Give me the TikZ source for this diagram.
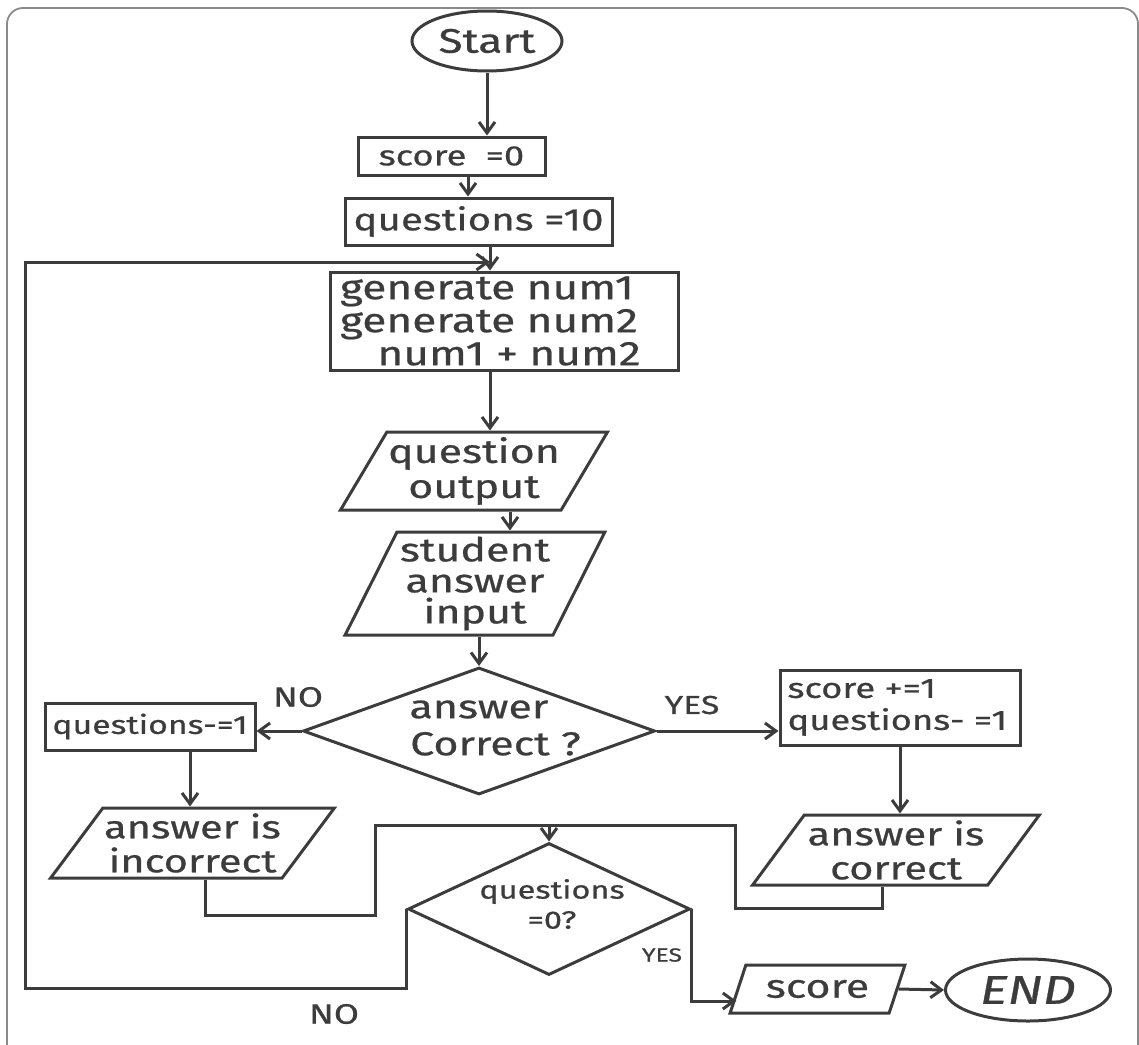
\documentclass[tikz,border=0pt]{standalone}
\usepackage{fontspec}
\setmainfont{Fira Sans}[FakeStretch=1.3,FakeBold=0.7]
\usetikzlibrary{shapes.geometric,arrows.meta,calc}
\definecolor{ink}{HTML}{3C3C3C}
\definecolor{framec}{HTML}{8A8A8A}
\newcommand{\fsz}[2]{\fontsize{#1}{#2}\selectfont}
\begin{document}
\begin{tikzpicture}[x=1pt,y=-1pt,color=ink,line width=3pt,
  box/.style={draw,rectangle,inner sep=0pt,align=center,font=\fsz{30}{36}},
  io/.style={draw,trapezium,trapezium stretches=true,inner sep=0pt,align=center,font=\fsz{32}{34}},
  term/.style={draw,ellipse,inner sep=0pt,font=\fsz{34}{40}},
  dec/.style={draw,diamond,inner sep=0pt},
  dectext/.style={inner sep=0pt,align=center,font=\fsz{30}{34}},
  lbl/.style={inner sep=0pt,font=\fsz{28}{30}},
  arr/.style={-{Straight Barb[length=11pt,width=16pt]}}]
\useasboundingbox (0,0) rectangle (1139,1044);
\clip (0,0) rectangle (1139,1044);
% frame
\draw[framec,line width=1.8pt,rounded corners=16pt] (7,1100) -- (7,8) -- (1138,8) -- (1138,1100);

% nodes
\node[term,minimum width=150,minimum height=60] (start) at (487,41) {Start};
\node[box,minimum width=187,minimum height=38,font=\fsz{28}{32}] (s0) at (451.5,156) {score\ \ =0};
\node[box,minimum width=267,minimum height=47,font=\fsz{31}{34}] (q10) at (478.5,221.5) {questions =10};
\node[box,minimum width=348,minimum height=98,text width=328,align=left,font=\fsz{34}{33}] (gen) at (504,321)
  {generate num1\\generate num2\\\hspace*{1.1em}num1 + num2};
\node[io,trapezium left angle=56,trapezium right angle=124,minimum width=268,minimum height=78,font=\fsz{33}{35}] (qout) at (474,471)
  {question\\output};
\node[io,trapezium left angle=62,trapezium right angle=118,minimum width=260,minimum height=103,font=\fsz{33}{31}] (sin) at (475,583.5)
  {student\\answer\\input};
\node[dec,minimum width=352,minimum height=127] (d1) at (479,731) {};
\node[dectext,font=\fsz{33}{37}] (d1t) at (479,728) {answer\\\hspace*{1em}Correct ?};
\node[box,minimum width=210,minimum height=47,font=\fsz{26}{30}] (qm1) at (150,726.5) {questions-=1};
\node[box,minimum width=240,minimum height=75,text width=225,align=left,font=\fsz{28}{32}] (sp1) at (900,707.5)
  {score +=1\\questions- =1};
\node[io,trapezium left angle=49,trapezium right angle=131,minimum width=285,minimum height=70] (inc) at (192.5,843)
  {answer is\\incorrect};
\node[io,trapezium left angle=50,trapezium right angle=130,minimum width=288,minimum height=70] (cor) at (896,850)
  {answer is\\correct};
\node[dec,minimum width=282,minimum height=132] (d2) at (549,909) {};
\node[dectext,font=\fsz{25}{30}] (d2t) at (552,904) {questions\\=0?};
\node[io,trapezium left angle=58,trapezium right angle=122,minimum width=175,minimum height=48,font=\fsz{33}{36}] (sc) at (817.5,989) {score};
\node[term,minimum width=165,minimum height=62,font=\fsz{40}{44}\itshape] (endn) at (1028,990) {END};

% guide coordinates
\coordinate (xB) at (468,0);
\coordinate (xC) at (490,0);
\coordinate (xE) at (510,0);
\coordinate (xG) at (190,0);
\coordinate (xH) at (900,0);
\coordinate (xI) at (205,0);
\coordinate (jl) at (375,915);
\coordinate (jt) at (735,825);
\coordinate (jr) at (882,908);
\coordinate (lp1) at (25,988);
\coordinate (lpt) at (490,262);

% connectors
\draw[arr] (start.south) -- (start.south |- s0.north);
\draw[arr] (s0.south -| xB) -- (q10.north -| xB);
\draw[arr] (q10.south -| xC) -- (gen.north -| xC);
\draw[arr] (gen.south -| xC) -- (qout.north -| xC);
\draw[arr] (qout.south -| xE) -- (sin.north -| xE);
\draw[arr] (sin.south -| d1.north) -- (d1.north);
\draw[arr] (d1.west) -- (d1.west -| qm1.east);
\draw[arr] (d1.east) -- (d1.east -| sp1.west);
\draw[arr] (qm1.south -| xG) -- (inc.north -| xG);
\draw[arr] (sp1.south -| xH) -- (cor.north -| xH);
\draw (inc.south -| xI) |- (jl) -- (jl |- jt) -- (jt) -- (jt |- jr) -- (jr) -- (jr |- cor.south);
\draw[arr] (d2.north |- jt) -- (d2.north);
\draw[arr] (d2.west) |- (lp1) |- (lpt);
\draw[arr] (d2.east) |- ([yshift=-12pt]sc.west);
\draw[arr] (sc.east) -- (endn.west);

% labels
\node[lbl] (lno1) at (298,697) {NO};
\node[lbl,font=\fsz{26}{30}] (lyes1) at (692,705) {YES};
\node[lbl] (lno2) at (334,1014) {NO};
\node[lbl,font=\fsz{19}{22}] (lyes2) at (662,955) {YES};
\end{tikzpicture}
\end{document}
